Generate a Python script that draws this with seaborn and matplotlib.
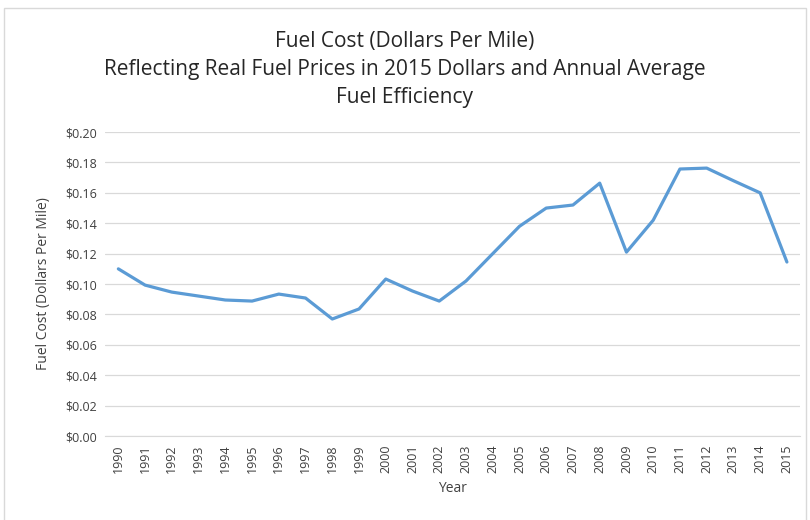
import numpy as np
import pandas as pd
import seaborn as sns
import matplotlib.pyplot as plt
from matplotlib.patches import Rectangle
from matplotlib.ticker import FuncFormatter

# data
years = list(range(1990, 2016))
cost = [0.110, 0.0993, 0.0947, 0.0921, 0.0895, 0.0888, 0.0934, 0.0908, 0.0770, 0.0836,
        0.1033, 0.0954, 0.0888, 0.1020, 0.1200, 0.1380, 0.1500, 0.1520, 0.1664, 0.1210,
        0.1420, 0.1757, 0.1763, 0.1680, 0.1600, 0.1145]

df = pd.DataFrame({'Year': years, 'Cost': cost})

sns.set_style('white')
plt.rcParams['font.family'] = ['Open Sans', 'DejaVu Sans']

fig = plt.figure(figsize=(8.1, 5.2), dpi=100)
ax = fig.add_axes([0.1296, 0.1615, 0.8584, 0.5845])

sns.lineplot(data=df, x='Year', y='Cost', ax=ax, color='#5B9BD5', linewidth=2.3)

ax.set_xlim(1989.5, 2015.5)
ax.set_ylim(0, 0.20)
ax.set_yticks(np.arange(0, 0.201, 0.02))
ax.yaxis.set_major_formatter(FuncFormatter(lambda v, p: f'${v:.2f}'))
ax.set_xticks(years)
ax.set_xticklabels([str(y) for y in years], rotation=90)
ax.tick_params(axis='both', length=0, labelsize=9, colors='#404040', pad=6)
ax.grid(axis='y', color='#D9D9D9', linewidth=0.9)
ax.set_axisbelow(True)
for s in ['top', 'right', 'left']:
    ax.spines[s].set_visible(False)
ax.spines['bottom'].set_color('#D9D9D9')

ax.set_xlabel('Year', fontsize=10, color='#404040', labelpad=6)
ax.set_ylabel('Fuel Cost (Dollars Per Mile)', fontsize=10, color='#404040', labelpad=10)

fig.text(0.5, 0.94, 'Fuel Cost (Dollars Per Mile)\nReflecting Real Fuel Prices in 2015 Dollars and Annual Average\nFuel Efficiency',
         ha='center', va='top', fontsize=15, color='#262626', linespacing=1.42)

fig.patches.append(Rectangle((4 / 810, -0.05), 802 / 810, 1.05 - 8 / 520, transform=fig.transFigure,
                             fill=False, edgecolor='#D9D9D9', linewidth=1))

fig.savefig('out.png', dpi=100)
